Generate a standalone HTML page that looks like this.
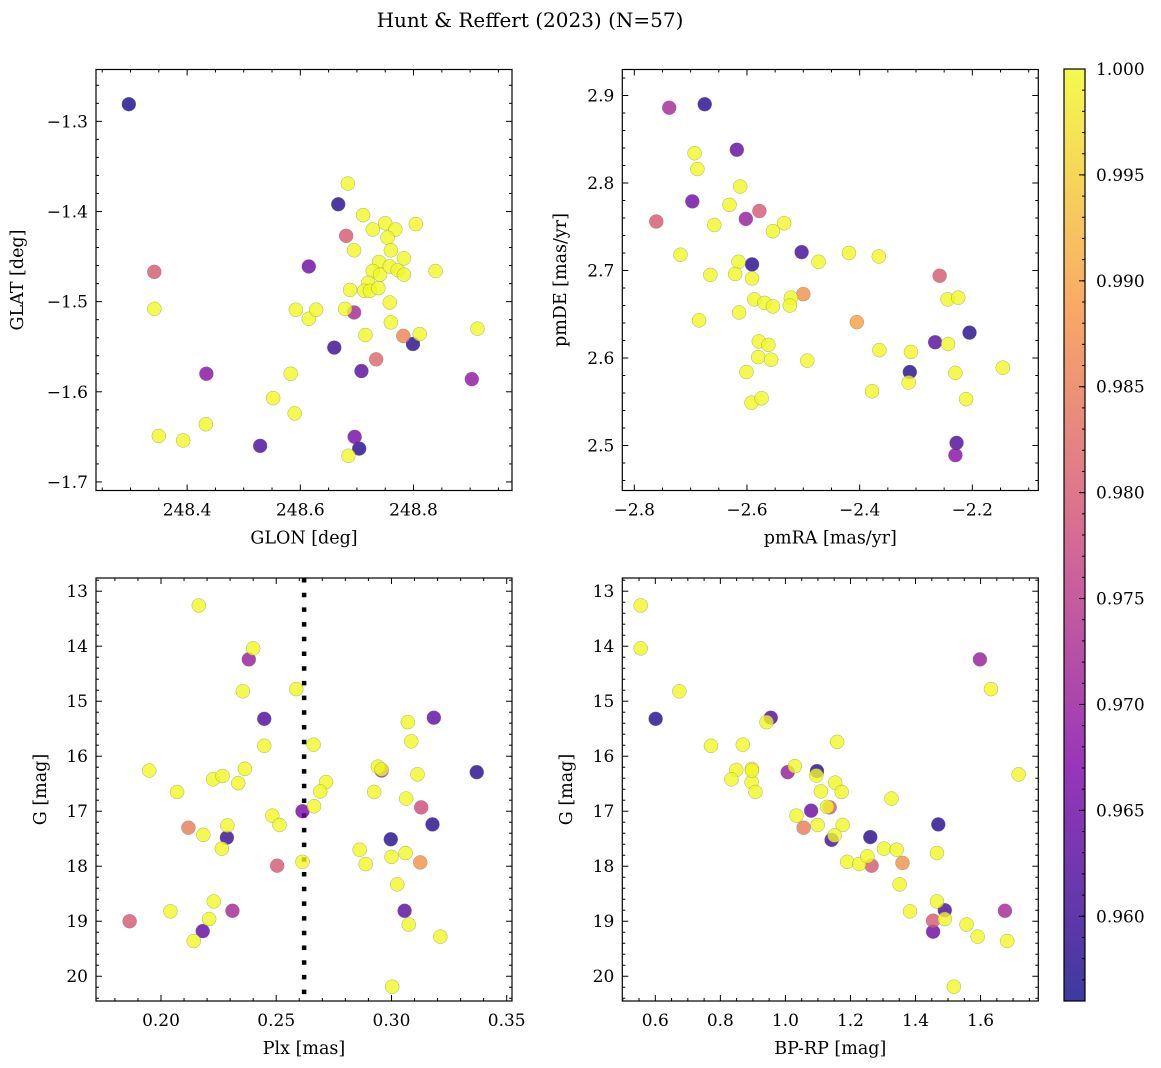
<!DOCTYPE html>
<html><head><meta charset="utf-8">
<style>
html,body{margin:0;padding:0;background:#fff;}
svg{display:block;font-family:"DejaVu Serif","Liberation Serif",serif;}
</style></head>
<body>
<svg id="fig" width="1161" height="1068" viewBox="0 0 1161 1068" xmlns="http://www.w3.org/2000/svg">
<text x="530" y="27" font-size="20" text-anchor="middle">Hunt &amp; Reffert (2023) (N=57)</text>
</svg>
<script>
// Panel 1 data: GLON / GLAT / probability
const p1Glon=[248.297,248.342,248.342,248.434,248.350,248.393,248.433,248.529,248.552,248.583,248.590,248.592,248.615,248.628,248.615,248.660,248.667,248.684,248.681,248.695,248.679,248.695,248.688,248.685,248.696,248.704,248.708,248.711,248.715,248.728,248.750,248.768,248.754,248.760,248.739,248.728,248.741,248.758,248.772,248.783,248.783,248.720,248.713,248.723,248.738,248.758,248.760,248.734,248.782,248.799,248.811,248.804,248.839,248.913,248.903];
const p1Glat=[-1.281,-1.467,-1.508,-1.580,-1.649,-1.654,-1.636,-1.660,-1.607,-1.580,-1.624,-1.509,-1.519,-1.509,-1.461,-1.551,-1.392,-1.369,-1.427,-1.443,-1.508,-1.512,-1.487,-1.671,-1.650,-1.663,-1.577,-1.404,-1.537,-1.420,-1.413,-1.420,-1.429,-1.443,-1.456,-1.466,-1.470,-1.461,-1.465,-1.452,-1.470,-1.479,-1.488,-1.488,-1.485,-1.501,-1.523,-1.564,-1.538,-1.547,-1.536,-1.414,-1.466,-1.530,-1.586];
const p1Prob=[0.957,0.980,1,0.968,1,1,1,0.962,1,1,1,1,1,1,0.965,0.960,0.958,1,0.980,1,1,0.972,1,1,0.966,0.958,0.963,1,1,1,1,1,1,1,1,1,1,1,1,1,1,1,1,1,1,1,1,0.982,0.986,0.958,1,1,1,1,0.969];
// Panel 2 data: pmRA / pmDE / probability
const p2PmRA=[-2.738,-2.675,-2.693,-2.688,-2.618,-2.612,-2.697,-2.631,-2.578,-2.602,-2.761,-2.658,-2.554,-2.534,-2.718,-2.503,-2.473,-2.419,-2.366,-2.615,-2.591,-2.665,-2.621,-2.591,-2.587,-2.569,-2.554,-2.522,-2.524,-2.500,-2.614,-2.685,-2.405,-2.258,-2.244,-2.225,-2.579,-2.562,-2.580,-2.557,-2.493,-2.601,-2.592,-2.574,-2.365,-2.309,-2.266,-2.243,-2.205,-2.311,-2.313,-2.378,-2.230,-2.211,-2.146,-2.228,-2.230];
const p2PmDE=[2.886,2.890,2.834,2.816,2.838,2.796,2.779,2.775,2.768,2.759,2.756,2.752,2.745,2.754,2.718,2.721,2.710,2.720,2.716,2.710,2.707,2.695,2.696,2.691,2.667,2.663,2.659,2.669,2.660,2.673,2.652,2.643,2.641,2.694,2.667,2.669,2.619,2.615,2.601,2.598,2.597,2.584,2.549,2.554,2.609,2.607,2.618,2.616,2.629,2.584,2.572,2.562,2.583,2.553,2.589,2.503,2.489];
const p2Prob=[0.972,0.958,1,1,0.964,1,0.965,1,0.980,0.970,0.980,1,1,1,1,0.961,1,1,1,1,0.958,1,1,1,1,1,1,1,1,0.988,1,1,0.990,0.980,1,1,1,1,1,1,1,1,1,1,1,1,0.963,1,0.958,0.958,1,1,1,1,1,0.962,0.968];
// Panel 3 data: Plx / G / probability
const p3Plx=[0.2164,0.240,0.2381,0.2355,0.2587,0.2448,0.2448,0.2662,0.1949,0.2070,0.2226,0.2267,0.2364,0.2335,0.2716,0.2691,0.2664,0.2614,0.2483,0.2514,0.2119,0.2184,0.2288,0.2286,0.2264,0.2504,0.2614,0.1864,0.2041,0.2229,0.2310,0.2209,0.2181,0.2142,0.2941,0.2957,0.2957,0.3071,0.3086,0.3184,0.3113,0.3370,0.2925,0.3064,0.3129,0.3178,0.2997,0.2862,0.2888,0.3000,0.3061,0.3125,0.3025,0.3057,0.3075,0.3212,0.3003];
const p3G=[13.26,14.04,14.24,14.82,14.78,15.32,15.81,15.79,16.26,16.65,16.42,16.36,16.23,16.49,16.47,16.64,16.91,17.00,17.08,17.25,17.30,17.43,17.26,17.48,17.68,17.99,17.92,19.00,18.82,18.64,18.81,18.96,19.18,19.36,16.19,16.26,16.24,15.38,15.73,15.30,16.33,16.29,16.65,16.77,16.93,17.24,17.51,17.70,17.96,17.83,17.76,17.93,18.33,18.81,19.06,19.28,20.19];
const p3Prob=[1,1,0.970,1,1,0.962,1,1,1,1,1,1,1,1,1,1,1,0.966,1,1,0.985,1,1,0.960,1,0.980,1,0.980,1,1,0.972,1,0.964,1,1,0.970,1,1,1,0.964,1,0.958,1,1,0.978,0.958,0.958,1,1,1,1,0.988,1,0.963,1,1,1];
const plxLine=0.2621;
// Panel 4 data: BP-RP / G / probability
const p4Color=[0.555,0.555,0.674,0.601,0.955,0.942,0.771,0.869,0.849,0.834,0.897,0.896,0.908,1.007,1.029,1.097,1.095,1.159,1.153,1.109,1.173,1.136,1.128,1.079,1.034,1.056,1.099,1.176,1.142,1.151,1.261,1.326,1.303,1.342,1.190,1.227,1.265,1.252,1.360,1.351,1.383,1.470,1.466,1.466,1.490,1.454,1.454,1.490,1.557,1.591,1.675,1.682,1.518,1.598,1.632,1.717,0.897];
const p4G=[13.26,14.04,14.82,15.32,15.30,15.38,15.81,15.79,16.25,16.42,16.23,16.47,16.65,16.29,16.18,16.27,16.35,15.74,16.48,16.64,16.65,16.93,16.92,16.99,17.08,17.30,17.25,17.25,17.52,17.44,17.47,16.77,17.68,17.70,17.92,17.96,17.99,17.82,17.94,18.33,18.82,17.24,17.76,18.64,18.80,18.99,19.19,18.96,19.06,19.28,18.81,19.36,20.19,14.24,14.78,16.33,16.26];
const p4Prob=[1,1,1,0.958,0.962,1,1,1,1,1,1,1,1,0.970,1,0.958,1,1,1,1,1,0.980,1,0.965,1,0.985,1,1,0.961,1,0.958,1,1,1,1,1,0.980,1,0.988,1,1,0.958,1,1,0.962,0.980,0.965,1,1,1,0.972,1,1,0.970,1,1,1];
const cbTicks=[0.960,0.965,0.970,0.975,0.980,0.985,0.990,0.995,1.000];
const VMIN=0.956, VMAX=1.0;

const NS="http://www.w3.org/2000/svg";
const svg=document.getElementById('fig');
function mk(tag,attrs,parent){const e=document.createElementNS(NS,tag);for(const k in attrs)e.setAttribute(k,attrs[k]);(parent||svg).appendChild(e);return e;}
const stops=[[0,[13,8,135]],[0.25,[126,3,168]],[0.5,[204,71,120]],[0.75,[248,149,64]],[1,[240,249,33]]];
function plasma(t){t=Math.max(0,Math.min(1,t));for(let i=1;i<stops.length;i++){if(t<=stops[i][0]){const a=stops[i-1],b=stops[i];const f=(t-a[0])/(b[0]-a[0]);const c=a[1].map((v,j)=>Math.round(v+(b[1][j]-v)*f));return `rgb(${c[0]},${c[1]},${c[2]})`;}}return 'rgb(240,249,33)';}
function fmt(v,d){return v.toFixed(d).replace('-','\u2212');}

function panel(cfg){
  const g=mk('g',{});
  
  
  const {L,T,W,H,x0,x1,y0,y1}=cfg;
  const sx=v=>L+(v-x0)/(x1-x0)*W;
  const sy=cfg.invert ? (v=>T+((v-y0)/(y1-y0))*H) : (v=>T+(1-(v-y0)/(y1-y0))*H);
  const tk=mk('g',{stroke:'#000','stroke-width':1},g);
  
  
  const eps=1e-9;
  for(let v=Math.ceil((x0-eps)/cfg.xm)*cfg.xm; v<=x1+eps; v+=cfg.xm){
    const isMaj=Math.abs(v/cfg.xM-Math.round(v/cfg.xM))<1e-6;const len=isMaj?6:3;const x=sx(v);
    mk('line',{x1:x,x2:x,y1:T+H,y2:T+H-len},tk);mk('line',{x1:x,x2:x,y1:T,y2:T+len},tk);
    if(isMaj){const t=mk('text',{x:x,y:T+H+25,'font-size':17,'text-anchor':'middle',stroke:'none',fill:'#000'},g);t.textContent=fmt(v,cfg.xd);
      }
  }
  for(let v=Math.ceil((y0-eps)/cfg.ym)*cfg.ym; v<=y1+eps; v+=cfg.ym){
    const isMaj=Math.abs(v/cfg.yM-Math.round(v/cfg.yM))<1e-6;const len=isMaj?6:3;const y=sy(v);
    mk('line',{x1:L,x2:L+len,y1:y,y2:y},tk);mk('line',{x1:L+W,x2:L+W-len,y1:y,y2:y},tk);
    if(isMaj){const t=mk('text',{x:L-8,y:y+6,'font-size':17,'text-anchor':'end',stroke:'none',fill:'#000'},g);t.textContent=fmt(v,cfg.yd);
      }
  }
  if(cfg.vline!==undefined){const l=mk('line',{x1:sx(cfg.vline),x2:sx(cfg.vline),y1:T,y2:T+H,stroke:'#000','stroke-width':4.5,'stroke-dasharray':'4.5 10.2'},g);
    }
  const pts=mk('g',{},g);
  
  
  const idx=cfg.xs.map((_,i)=>i).sort((a,b)=>cfg.ps[a]-cfg.ps[b]);
  idx.forEach(i=>{
    const c=mk('circle',{cx:sx(cfg.xs[i]),cy:sy(cfg.ys[i]),r:7,fill:plasma((cfg.ps[i]-VMIN)/(VMAX-VMIN)),'fill-opacity':0.8,stroke:'#777','stroke-opacity':0.6,'stroke-width':0.5},pts);
    
    
  });
  mk('rect',{x:L,y:T,width:W,height:H,fill:'none',stroke:'#000','stroke-width':1.2},g);
  const xl=mk('text',{x:L+W/2,y:T+H+53,'font-size':17.5,'text-anchor':'middle'},g);xl.textContent=cfg.xlab;
  
  const yx=cfg.ylx, yy=T+H/2;
  const yl=mk('text',{x:yx,y:yy,'font-size':17.5,'text-anchor':'middle',transform:`rotate(-90 ${yx} ${yy})`},g);yl.textContent=cfg.ylab;
  
}
panel({name:'glon-glat-panel',L:96,T:69.5,W:416,H:421,x0:248.239,x1:248.974,y0:-1.7095,y1:-1.2425,xm:0.05,xM:0.2,ym:0.02,yM:0.1,xd:1,yd:1,xs:p1Glon,ys:p1Glat,ps:p1Prob,xlab:'GLON [deg]',ylab:'GLAT [deg]',ylx:23});
panel({name:'pm-panel',L:622.3,T:69.5,W:416,H:421,x0:-2.8213,x1:-2.0829,y0:2.4486,y1:2.9297,xm:0.05,xM:0.2,ym:0.02,yM:0.1,xd:1,yd:1,xs:p2PmRA,ys:p2PmDE,ps:p2Prob,xlab:'pmRA [mas/yr]',ylab:'pmDE [mas/yr]',ylx:566});
panel({name:'plx-g-panel',L:96,T:578,W:416,H:423,x0:0.1718,x1:0.3523,y0:12.76,y1:20.45,invert:true,xm:0.01,xM:0.05,ym:0.2,yM:1,xd:2,yd:0,xs:p3Plx,ys:p3G,ps:p3Prob,vline:plxLine,xlab:'Plx [mas]',ylab:'G [mag]',ylx:46});
panel({name:'cmd-panel',L:622.3,T:578,W:416,H:423,x0:0.4985,x1:1.7775,y0:12.76,y1:20.45,invert:true,xm:0.05,xM:0.2,ym:0.2,yM:1,xd:1,yd:0,xs:p4Color,ys:p4G,ps:p4Prob,xlab:'BP-RP [mag]',ylab:'G [mag]',ylx:572});

// Colorbar
(function(){
  const L=1064,T=69,W=21,H=932;
  const g=mk('g',{});
  
  
  const defs=mk('defs',{},g);
  const lg=mk('linearGradient',{id:'cbg',x1:0,y1:1,x2:0,y2:0},defs);
  for(let i=0;i<=20;i++){mk('stop',{offset:i/20,'stop-color':plasma(i/20),'stop-opacity':0.8},lg);}
  mk('rect',{x:L,y:T,width:W,height:H,fill:'url(#cbg)'},g);
  const sy=v=>T+(1-(v-VMIN)/(VMAX-VMIN))*H;
  for(let v=0.957; v<=VMAX+1e-9; v+=0.001){const y=sy(v);mk('line',{x1:L+W,x2:L+W-3,y1:y,y2:y,stroke:'#000'},g);}
  cbTicks.forEach(v=>{const y=sy(v);mk('line',{x1:L+W,x2:L+W-6,y1:y,y2:y,stroke:'#000'},g);
    const t=mk('text',{x:L+W+11,y:y+6,'font-size':17},g);t.textContent=v.toFixed(3);
    });
  mk('rect',{x:L,y:T,width:W,height:H,fill:'none',stroke:'#000','stroke-width':1.2},g);
})();
</script>
</body></html>
